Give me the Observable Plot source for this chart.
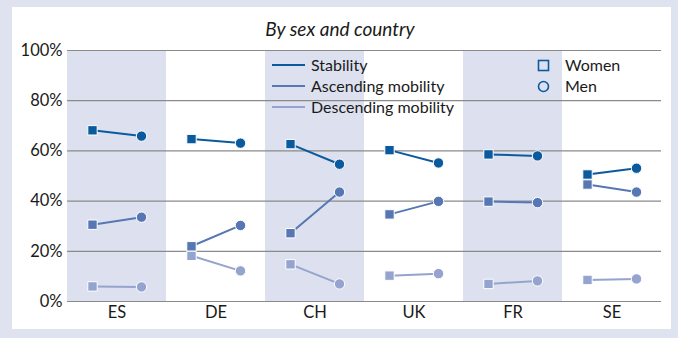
<!DOCTYPE html>
<html>
<head>
<meta charset="utf-8">
<script src="https://cdn.jsdelivr.net/npm/d3@7"></script>
<script src="https://cdn.jsdelivr.net/npm/@observablehq/plot@0.6"></script>
<style>
  html, body { margin: 0; padding: 0; }
  body { width: 678px; height: 338px; background: #dfe3f0; position: relative; overflow: hidden;
         font-family: Lato, "Open Sans", sans-serif; color: #1a1a1a; }
  #panel { position: absolute; left: 12px; top: 7px; width: 659px; height: 322px; background: #fff; }
  #title { position: absolute; left: 0; width: 680px; top: 17px; text-align: center; font-style: italic; font-size: 19px; }
  #chart { position: absolute; left: 0; top: 0; }
  .leg { position: absolute; font-size: 16px; line-height: 20px; }
  .leg .item { display: flex; align-items: center; height: 20.8px; }
  .leg svg { margin-right: 6px; }
</style>
</head>
<body>
<div id="panel"></div>
<div id="title">By sex and country</div>
<div id="chart"></div>
<div id="legLines" class="leg" style="left:272px; top:55px;"></div>
<div id="legSex" class="leg" style="left:537px; top:55px;"></div>
<script>
const countries = ["ES", "DE", "CH", "UK", "FR", "SE"];
const shadedCountries = ["ES", "CH", "FR"];
const sexes = ["Women", "Men"];
const seriesNames = ["Stability", "Ascending mobility", "Descending mobility"];
const seriesColors = ["#0b5a9e", "#5677b3", "#95a3cf"];

const stabilityWomen  = [68.2, 64.7, 62.7, 60.3, 58.6, 50.6];
const stabilityMen    = [65.9, 63.1, 54.7, 55.2, 58.0, 53.1];
const ascendingWomen  = [30.6, 22.0, 27.2, 34.7, 39.8, 46.6];
const ascendingMen    = [33.6, 30.3, 43.6, 39.9, 39.4, 43.6];
const descendingWomen = [6.0, 18.2, 14.8, 10.3, 7.0, 8.6];
const descendingMen   = [5.8, 12.2, 7.0, 11.1, 8.2, 9.0];

const yTicks = [0, 20, 40, 60, 80, 100];

const seriesValues = [
  [stabilityWomen, stabilityMen],
  [ascendingWomen, ascendingMen],
  [descendingWomen, descendingMen]
];

const rows = [];
seriesNames.forEach((s, si) => {
  countries.forEach((c, ci) => {
    sexes.forEach((sex, xi) => {
      rows.push({series: s, country: c, sex, value: seriesValues[si][xi][ci]});
    });
  });
});
// draw descending first, stability last (on top)
const women = rows.filter(d => d.sex === "Women").reverse();
const men = rows.filter(d => d.sex === "Men").reverse();

const chart = Plot.plot({
  width: 678,
  height: 338,
  marginLeft: 65,
  marginRight: 15,
  marginTop: 50,
  marginBottom: 37,
  style: {background: "transparent", fontSize: "16.5px", fontFamily: "Lato, 'Open Sans', sans-serif", color: "#1a1a1a"},
  fx: {domain: countries, padding: 0, label: null},
  x: {type: "point", domain: sexes, padding: 0.5, axis: null},
  y: {domain: [0, 100], label: null},
  color: {domain: seriesNames, range: seriesColors},
  marks: [
    Plot.rect(shadedCountries, {fx: d => d, y1: 0, y2: 100, fill: "#dde1ef"}),
    Plot.ruleY(yTicks, {stroke: "#8a8a8a", strokeWidth: 1.2}),
    Plot.axisY({ticks: yTicks, tickSize: 0, tickPadding: 5, tickFormat: d => d + "%", label: null}),
    Plot.axisFx({anchor: "bottom", tickSize: 0, tickPadding: 5, label: null}),
    Plot.line(rows.slice().reverse(), {fx: "country", x: "sex", y: "value", z: "series", stroke: "series", strokeWidth: 2}),
    Plot.dot(women, {fx: "country", x: "sex", y: "value", fill: "series", stroke: "white", strokeWidth: 1, symbol: "square", r: 5.3}),
    Plot.dot(men, {fx: "country", x: "sex", y: "value", fill: "series", stroke: "white", strokeWidth: 1, symbol: "circle", r: 5.2})
  ]
});
document.getElementById("chart").appendChild(chart);

// legends
const legLines = document.getElementById("legLines");
seriesNames.forEach((s, i) => {
  const item = document.createElement("div");
  item.className = "item";
  item.innerHTML = `<svg width="33" height="4"><line x1="0" x2="33" y1="2" y2="2" stroke="${seriesColors[i]}" stroke-width="2"/></svg><span>${s}</span>`;
  legLines.appendChild(item);
});
const legSex = document.getElementById("legSex");
sexes.forEach((s) => {
  const item = document.createElement("div");
  item.className = "item";
  const shape = s === "Women"
    ? `<rect x="1.5" y="1.5" width="10" height="10" fill="none" stroke="${seriesColors[0]}" stroke-width="1.6"/>`
    : `<circle cx="6.5" cy="6.5" r="5" fill="none" stroke="${seriesColors[0]}" stroke-width="1.6"/>`;
  item.innerHTML = `<svg width="13" height="13" style="margin-right:15px">${shape}</svg><span>${s}</span>`;
  legSex.appendChild(item);
});
</script>
</body>
</html>
